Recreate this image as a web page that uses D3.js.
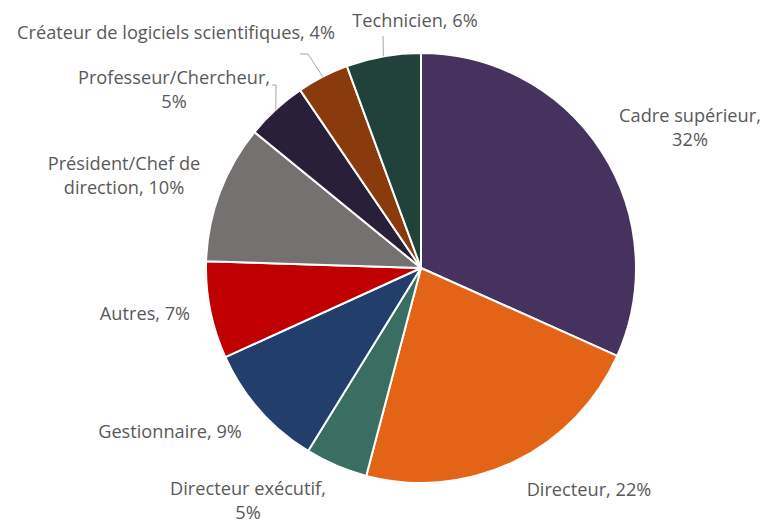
<!DOCTYPE html>
<html>
<head>
<meta charset="utf-8">
<script src="https://cdn.jsdelivr.net/npm/d3@7"></script>
<style>
  html, body { margin: 0; padding: 0; background: #ffffff; }
  svg text { font-family: "Open Sans", sans-serif; fill: #595959; }
</style>
</head>
<body>
<svg id="chart" width="765" height="525"></svg>
<script>
// ---- data ----
const categories = [
  "Cadre supérieur", "Directeur", "Directeur exécutif", "Gestionnaire", "Autres",
  "Président/Chef de direction", "Professeur/Chercheur",
  "Créateur de logiciels scientifiques", "Technicien"
];
const values = [31.7, 22.4, 4.7, 9.4, 7.3, 10.4, 4.6, 3.9, 5.6];
const colors = ["#46325e", "#e46417", "#3b6e63", "#223f6c", "#c00000",
                "#767171", "#2a1f38", "#8a3b0e", "#21423a"];
// how each label text is broken into lines
const labelLines = [
  ["Cadre supérieur,", "{p}"], ["Directeur, {p}"], ["Directeur exécutif,", "{p}"],
  ["Gestionnaire, {p}"], ["Autres, {p}"], ["Président/Chef de", "direction, {p}"],
  ["Professeur/Chercheur,", "{p}"], ["Créateur de logiciels scientifiques, {p}"],
  ["Technicien, {p}"]
];

// ---- layout ----
const W = 765, H = 525;
const cx = 421, cy = 268, R = 215;
const lineH = 24;
const fontSize = 18.2;
// label block centre, relative to pie centre
const labelOffset = [
  [269, -140], [168, 221.5], [-173, 233], [-251, 163.5], [-276, 46],
  [-297, -92], [-247, -178.5], [-245, -235], [-6, -247.5]
];
// leader elbows (relative to pie centre); null = no leader
const leaders = [null, null, null, null, null, null,
  [[-145, -183], [-149, -183]],
  [[-113, -214], [-121, -214]],
  [[-38, -232]]
];

const svg = d3.select("#chart");
const g = svg.append("g").attr("transform", `translate(${cx},${cy})`);

const pie = d3.pie().sort(null).value(d => d.v);
const data = values.map((v, i) => ({ v, i, name: categories[i] }));
const arcs = pie(data);
const arc = d3.arc().innerRadius(0).outerRadius(R);
const edgeArc = d3.arc().innerRadius(R).outerRadius(R);

g.selectAll("path.slice")
  .data(arcs)
  .join("path")
  .attr("class", "slice")
  .attr("d", arc)
  .attr("fill", d => colors[d.data.i])
  .attr("stroke", "#ffffff")
  .attr("stroke-width", 2)
  .attr("stroke-linejoin", "round");

// leader lines
arcs.forEach((a, i) => {
  if (!leaders[i]) return;
  const start = edgeArc.centroid(a);
  const pts = [start].concat(leaders[i]);
  g.append("path")
    .attr("d", d3.line()(pts))
    .attr("fill", "none")
    .attr("stroke", "#a6a6a6")
    .attr("stroke-width", 1);
});

// labels
const total = d3.sum(values);
arcs.forEach((a, i) => {
  const pct = Math.round(values[i] / total * 100) + "%";
  const lines = labelLines[i].map(s => s.replace("{p}", pct));
  const [ox, oy] = labelOffset[i];
  const t = g.append("text")
    .attr("text-anchor", "middle")
    .attr("font-size", fontSize);
  lines.forEach((s, k) => {
    t.append("tspan")
      .attr("x", ox)
      .attr("y", oy + (k - (lines.length - 1) / 2) * lineH)
      .attr("dy", "0.35em")
      .text(s);
  });
});
</script>
</body>
</html>
